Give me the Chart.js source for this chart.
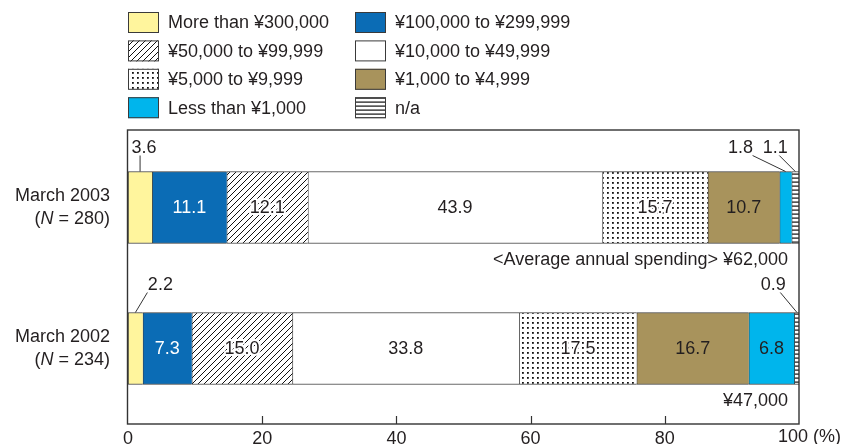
<!DOCTYPE html>
<html>
<head>
<meta charset="utf-8">
<script src="https://cdn.jsdelivr.net/npm/chart.js@4.4.1/dist/chart.umd.min.js"></script>
<style>
  html, body { margin: 0; padding: 0; background: #fff; }
</style>
</head>
<body>
<canvas id="c" width="842" height="444"></canvas>
<script>
const periods = ['March 2003', 'March 2002'];
const sampleSizes = [280, 234];
const averages = ['<Average annual spending> ¥62,000', '¥47,000'];
const brackets = [
  'More than ¥300,000', '¥100,000 to ¥299,999', '¥50,000 to ¥99,999', '¥10,000 to ¥49,999',
  '¥5,000 to ¥9,999', '¥1,000 to ¥4,999', 'Less than ¥1,000', 'n/a'
];
const share2003 = [3.6, 11.1, 12.1, 43.9, 15.7, 10.7, 1.8, 1.1];
const share2002 = [2.2, 7.3, 15.0, 33.8, 17.5, 16.7, 6.8, 0.9];
const xTicks = [0, 20, 40, 60, 80, 100];

const FONT = '"Liberation Sans", Arial, sans-serif';
const INK = '#231f20';
const EDGE = '#3a3a3a';

const canvas = document.getElementById('c');
const ctx = canvas.getContext('2d');

// small tiles for the hatched / dotted / striped fills
function tile(w, h, draw) {
  const t = document.createElement('canvas');
  t.width = w; t.height = h;
  const g = t.getContext('2d');
  g.fillStyle = '#fff';
  g.fillRect(0, 0, w, h);
  g.strokeStyle = '#111';
  g.fillStyle = '#111';
  draw(g, w, h);
  return ctx.createPattern(t, 'repeat');
}
const hatch = tile(6, 6, (g, s) => {
  g.lineWidth = 1;
  g.beginPath();
  g.moveTo(0, s); g.lineTo(s, 0);
  g.moveTo(-1, 1); g.lineTo(1, -1);
  g.moveTo(s - 1, s + 1); g.lineTo(s + 1, s - 1);
  g.stroke();
});
const dots = tile(5, 5, g => { g.fillRect(2, 2, 1.8, 1.8); });
const stripes = tile(4, 4, g => { g.fillRect(0, 1.5, 4, 1.2); });

const fills = ['#fff59d', '#0b6cb5', hatch, '#ffffff', dots, '#a8935c', '#00b5ec', stripes];
const labelColors = [INK, '#ffffff', INK, INK, INK, INK, INK, INK];
const halo = [false, false, true, false, true, false, false, false];

// values too thin to hold their label get a leader line
const callouts = [
  { ds: 0, row: 0, dx: 4, dy: -23, lx: -4 },
  { ds: 6, row: 0, dx: -45, dy: -23, lx: 12 },
  { ds: 7, row: 0, dx: -20, dy: -23, lx: 4 },
  { ds: 0, row: 1, dx: 25, dy: -27, lx: -13 },
  { ds: 7, row: 1, dx: -24, dy: -27, lx: 7 }
];

const datasets = brackets.map((name, i) => ({
  label: name,
  data: [share2003[i], share2002[i]],
  backgroundColor: fills[i],
  borderColor: EDGE,
  borderWidth: { top: 1, bottom: 1, left: 1, right: 0 },
  borderSkipped: false,
  barThickness: 72
}));

const FRAME_TOP = 7, FRAME_BOTTOM = 5;

const framePlugin = {
  id: 'frame',
  afterDraw(chart) {
    const { ctx: c, chartArea: a, scales: { x } } = chart;
    c.save();
    c.strokeStyle = '#333';
    c.lineWidth = 1.4;
    const top = a.top - FRAME_TOP, bottom = a.bottom + FRAME_BOTTOM;
    c.strokeRect(a.left - 0.5, top, a.right - a.left + 0.5, bottom - top);
    c.lineWidth = 1.2;
    c.beginPath();
    xTicks.slice(1, -1).forEach(v => {
      const px = Math.round(x.getPixelForValue(v)) + 0.5;
      c.moveTo(px, bottom);
      c.lineTo(px, bottom - 8);
    });
    c.stroke();

    // last tick label carries the unit
    c.fillStyle = INK;
    c.font = '18px ' + FONT;
    c.textAlign = 'left';
    c.textBaseline = 'top';
    c.fillText('100 (%)', x.getPixelForValue(100) - 21, x.top + 9);
    c.restore();
  }
};

const legendPlugin = {
  id: 'boxLegend',
  afterDraw(chart) {
    const c = chart.ctx;
    const cols = [128, 355];
    c.save();
    c.font = '18px ' + FONT;
    c.textBaseline = 'middle';
    c.textAlign = 'left';
    chart.data.datasets.forEach((ds, i) => {
      const bx = cols[i % 2];
      const cy = 22.5 + Math.floor(i / 2) * 28.4;
      c.fillStyle = ds.backgroundColor;
      c.fillRect(bx, cy - 10.5, 31, 21);
      c.strokeStyle = EDGE;
      c.lineWidth = 1;
      c.strokeRect(bx + 0.5, cy - 10, 30, 20);
      c.fillStyle = INK;
      c.fillText(ds.label, bx + 40, cy + 1);
    });
    c.restore();
  }
};

const labelPlugin = {
  id: 'segmentLabels',
  afterDatasetsDraw(chart) {
    const { ctx: c, chartArea: a } = chart;
    c.save();
    c.font = '18px ' + FONT;
    c.textAlign = 'center';
    c.textBaseline = 'middle';
    chart.data.datasets.forEach((ds, i) => {
      chart.getDatasetMeta(i).data.forEach((bar, j) => {
        const v = ds.data[j];
        const cx = (bar.x + bar.base) / 2;
        const top = bar.y - bar.height / 2;
        const text = v.toFixed(1);
        const co = callouts.find(o => o.ds === i && o.row === j);
        if (co) {
          const tx = cx + co.dx, ty = top + co.dy;
          c.fillStyle = INK;
          c.fillText(text, tx, ty);
          c.strokeStyle = '#333';
          c.lineWidth = 1;
          c.beginPath();
          c.moveTo(tx + co.lx, ty + 7);
          c.lineTo(Math.min(cx, a.right - 2), top);
          c.stroke();
        } else if (v >= 5) {
          if (halo[i]) {
            c.strokeStyle = '#fff';
            c.lineWidth = 4;
            c.lineJoin = 'round';
            c.strokeText(text, cx, bar.y + 1);
          }
          c.fillStyle = labelColors[i];
          c.fillText(text, cx, bar.y + 1);
        }
      });
    });

    // period names on the left, average spending under each bar
    const first = chart.getDatasetMeta(0).data;
    first.forEach((bar, j) => {
      const rx = a.left - 18;
      c.fillStyle = INK;
      c.textAlign = 'right';
      c.font = '18px ' + FONT;
      c.fillText(periods[j], rx, bar.y - 11.5);

      const parts = [['(', ''], ['N', 'italic '], [' = ' + sampleSizes[j] + ')', '']];
      const widths = parts.map(([t, s]) => { c.font = s + '18px ' + FONT; return c.measureText(t).width; });
      let px = rx - widths.reduce((p, w) => p + w, 0);
      c.textAlign = 'left';
      parts.forEach(([t, s], k) => {
        c.font = s + '18px ' + FONT;
        c.fillText(t, px, bar.y + 11.5);
        px += widths[k];
      });

      c.font = '18px ' + FONT;
      c.textAlign = 'right';
      c.fillText(averages[j], a.right - 11, bar.y + bar.height / 2 + 17);
    });
    c.restore();
  }
};

new Chart(ctx, {
  type: 'bar',
  data: { labels: periods, datasets },
  options: {
    indexAxis: 'y',
    responsive: false,
    devicePixelRatio: 1,
    animation: false,
    layout: { padding: { left: 128, right: 43, top: 130 + FRAME_TOP, bottom: 0 } },
    plugins: { legend: { display: false }, tooltip: { enabled: false } },
    scales: {
      x: {
        stacked: true,
        min: 0,
        max: 100,
        border: { display: false },
        grid: { display: false },
        afterBuildTicks: s => { s.ticks = xTicks.map(v => ({ value: v })); },
        afterFit: s => { s.height = 20 + FRAME_BOTTOM; },
        ticks: {
          autoSkip: false,
          maxRotation: 0,
          padding: 1,
          color: INK,
          font: { family: FONT, size: 18 },
          callback: v => (v === 100 ? '' : v)
        }
      },
      y: { stacked: true, display: false }
    }
  },
  plugins: [labelPlugin, framePlugin, legendPlugin]
});
</script>
</body>
</html>
